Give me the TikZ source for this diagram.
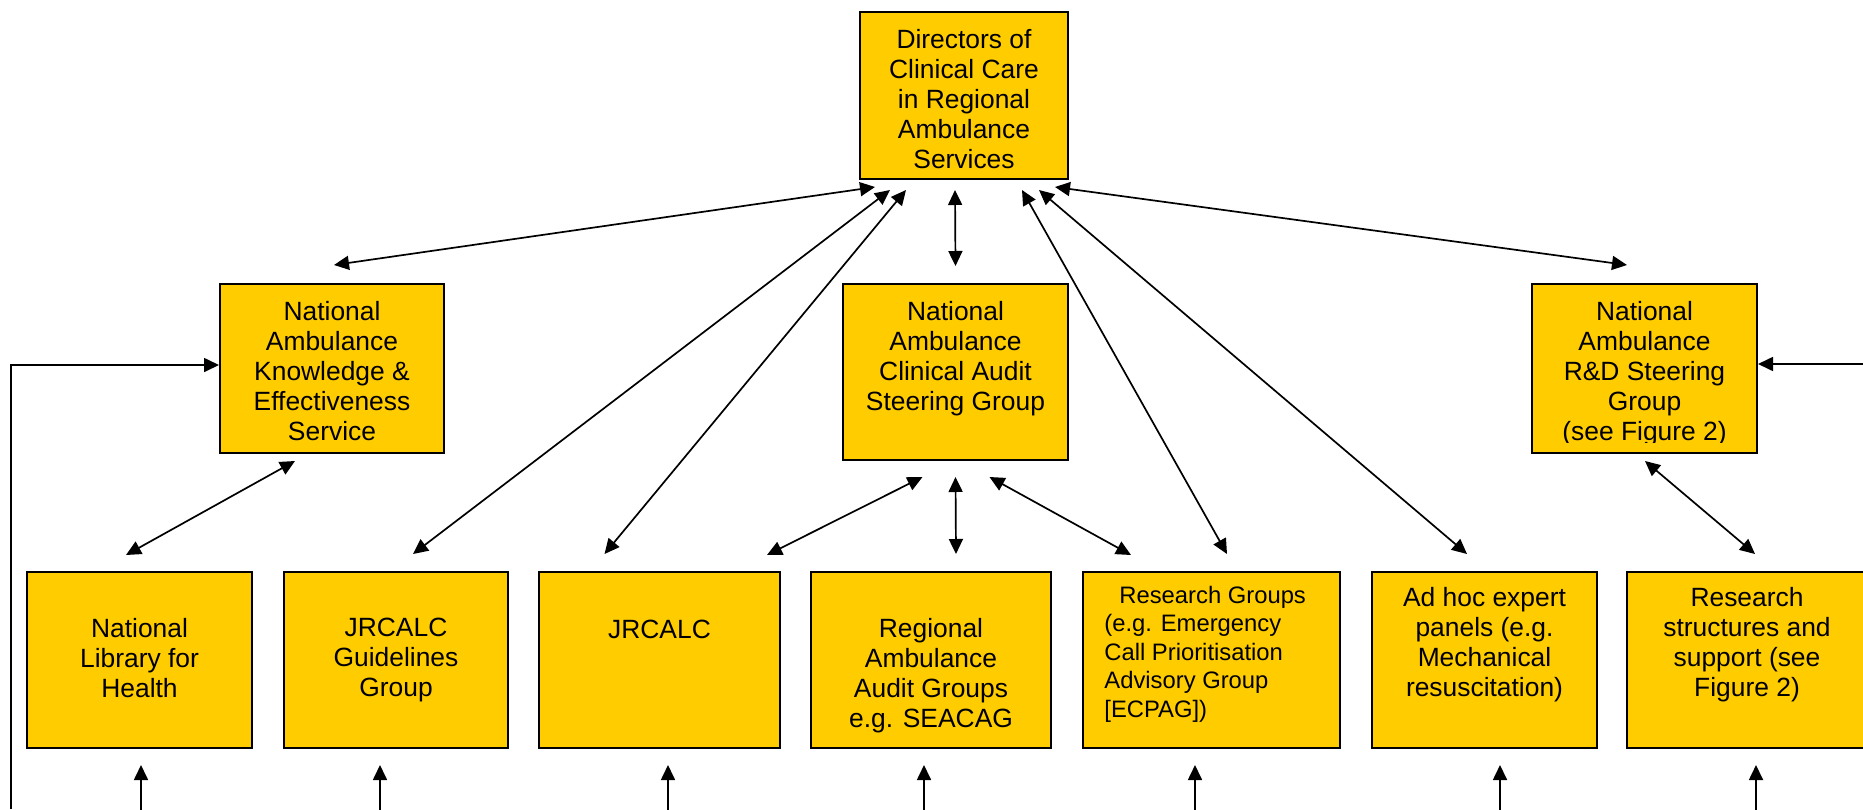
\documentclass[tikz,border=0pt]{standalone}
\usepackage{fontspec}
\setmainfont{Liberation Sans}
\usetikzlibrary{arrows.meta,calc,shadows}
\definecolor{boxfill}{HTML}{FFCC00}
\begin{document}
\begin{tikzpicture}[x=0.5pt,y=-0.5pt,
  box/.style 2 args={draw=black, line width=1pt, fill=boxfill, rectangle,
    inner sep=0pt, anchor=north west, minimum width=#1*0.5pt, minimum height=#2*0.5pt,
    drop shadow={shadow xshift=0.7pt, shadow yshift=-0.7pt, fill=black!60, opacity=0.6}},
  txt/.style={align=center, inner sep=0pt, anchor=north,
    font=\fontsize{13.2}{15}\selectfont, execute at begin node={\rule{0pt}{10pt}}},
  smalltxt/.style={align=left, inner sep=0pt, anchor=north west,
    font=\fontsize{11.9}{14.25}\selectfont, execute at begin node={\rule{0pt}{10pt}}},
  con/.style={line width=0.85pt, {Triangle[length=7.5pt,width=7pt]}-{Triangle[length=7.5pt,width=7pt]}},
  one/.style={line width=0.85pt, -{Triangle[length=7.5pt,width=7pt]}}]
\clip (0,0) rectangle (1863,809);
\fill[white] (0,0) rectangle (1863,809);

% boxes
\node[box={208}{167}] (D) at (859,11) {};
\node[box={224}{169}] (NAKES) at (219,283) {};
\node[box={225}{176}] (NACASG) at (842,283) {};
\node[box={225}{169}] (RD) at (1531,283) {};
\node[box={225}{176}] (NLH) at (26,571) {};
\node[box={224}{176}] (JGG) at (283,571) {};
\node[box={241}{176}] (JRCALC) at (538,571) {};
\node[box={240}{176}] (RAAG) at (810,571) {};
\node[box={257}{176}] (RG) at (1082,571) {};
\node[box={225}{176}] (AH) at (1371,571) {};
\node[box={240}{176}] (RS) at (1626,571) {};

% texts
\node[txt] (Dt) at ($(D.north)+(0,18)$) {Directors of\\Clinical Care\\in Regional\\Ambulance\\Services};
\node[txt] (NAKESt) at ($(NAKES.north)+(0,18)$) {National\\Ambulance\\Knowledge \&\\Effectiveness\\Service};
\node[txt] (NACASGt) at ($(NACASG.north)+(0,18)$) {National\\Ambulance\\Clinical Audit\\Steering Group};
\begin{scope}
  \clip (RD.north west) rectangle ($(RD.south east)+(0,-12)$);
  \node[txt] (RDt) at ($(RD.north)+(0,18)$) {National\\Ambulance\\R\&D Steering\\Group\\(see Figure 2)};
\end{scope}
\node[txt] (NLHt) at ($(NLH.north)+(0,47)$) {National\\Library for\\Health};
\node[txt] (JGGt) at ($(JGG.north)+(0,47)$) {JRCALC\\Guidelines\\Group};
\node[txt] (JRCALCt) at ($(JRCALC.north)+(0,47)$) {JRCALC};
\node[txt] (RAAGt) at ($(RAAG.north)+(0,47)$) {Regional\\Ambulance\\Audit Groups\\e.g. SEACAG};
\node[smalltxt] (RGt) at ($(RG.north west)+(22,14.5)$) {\hspace*{7.5pt}Research Groups\\(e.g. Emergency\\Call Prioritisation\\Advisory Group\\{[}ECPAG])};
\node[txt] (AHt) at ($(AH.north)+(0,16)$) {Ad hoc expert\\panels (e.g.\\Mechanical\\resuscitation)};
\node[txt] (RSt) at ($(RS.north)+(0,16)$) {Research\\structures and\\support (see\\Figure 2)};

% connectors from the top box
\draw[con] ($(D.south west)+(16,7)$) -- ($(NAKES.north)+(2,-18)$);
\draw[con] ($(D.south west)+(31,10)$) -- ($(JGG.north)+(17,-17)$);
\draw[con] ($(D.south west)+(47,10)$) -- ($(JRCALC.north)+(-55,-17)$);
\draw[con] ($(D.south west)+(96,10)$) -- ($(NACASG.north)+(0,-17)$);
\draw[con] ($(D.south east)+(-47,10)$) -- ($(RG.north)+(15.5,-17)$);
\draw[con] ($(D.south east)+(-30,10)$) -- ($(AH.north)+(-17.5,-17)$);
\draw[con] ($(D.south east)+(-14,7)$) -- ($(RD.north)+(-17.5,-18)$);

% second level connectors
\draw[con] ($(NAKES.south)+(-37,7)$) -- ($(NLH.north)+(-13.5,-16)$);
\draw[con] ($(NACASG.south)+(-33,16)$) -- ($(JRCALC.north)+(107.5,-16)$);
\draw[con] ($(NACASG.south)+(0,16)$) -- ($(RAAG.north)+(25,-17)$);
\draw[con] ($(NACASG.south)+(34,16)$) -- ($(RG.north)+(-80.5,-16)$);
\draw[con] ($(RD.south)+(0.5,7)$) -- ($(RS.north)+(8,-17)$);

% side connectors
\coordinate (L) at (11,809);
\coordinate (R) at (1863,364);
\draw[one] (L) |- ($(NAKES.west)+(0,-3.5)$);
\draw[one] (R) -- (R -| RD.east);

% bottom arrows
\coordinate (b1) at ($(NLH.south)+(1.5,62)$);
\coordinate (b2) at ($(JGG.south)+(-16,62)$);
\coordinate (b3) at ($(JRCALC.south)+(8.5,62)$);
\coordinate (b4) at ($(RAAG.south)+(-7,62)$);
\coordinate (b5) at ($(RG.south)+(-16.5,62)$);
\coordinate (b6) at ($(AH.south)+(15.5,62)$);
\coordinate (b7) at ($(RS.south)+(9,62)$);
\foreach \b in {b1,b2,b3,b4,b5,b6,b7}{
  \draw[one] (\b) -- ++(0,-46);
}
\end{tikzpicture}
\end{document}
